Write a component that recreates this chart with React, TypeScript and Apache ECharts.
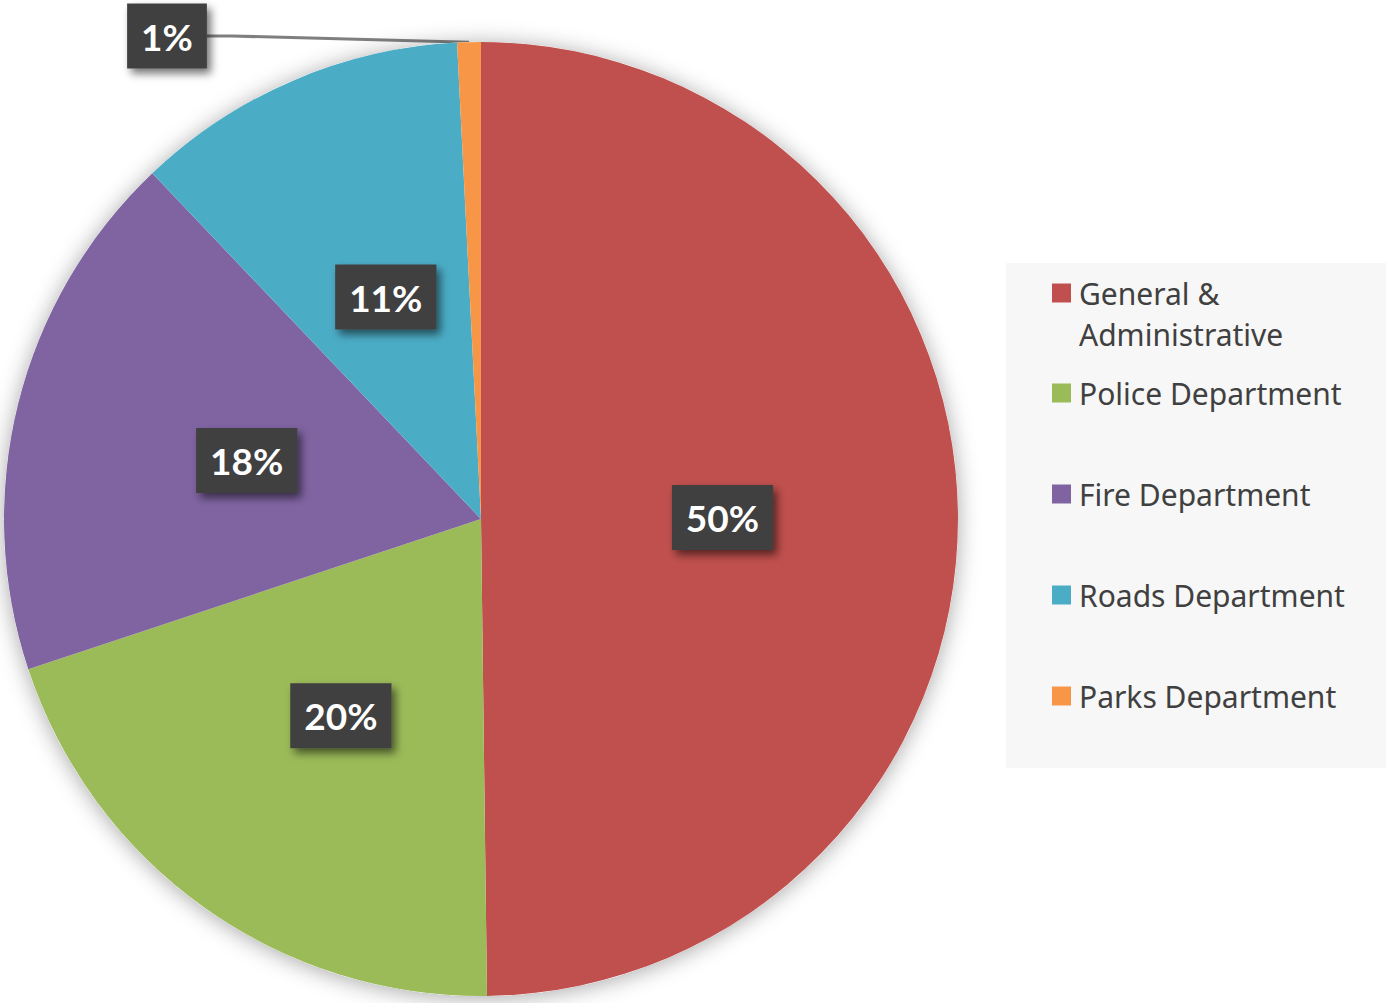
import React, { useEffect, useRef } from 'react';
import * as echarts from 'echarts';

const categories = [
  'General & Administrative',
  'Police Department',
  'Fire Department',
  'Roads Department',
  'Parks Department',
];
const values = [49.8, 20.1, 18.0, 11.3, 0.8];
const colors = ['#C0504D', '#9BBB59', '#8064A2', '#4BACC6', '#F79646'];
const legendText: Record<string, string> = {
  'General & Administrative': ' \nGeneral &\nAdministrative',
};

export default function App() {
  const ref = useRef<HTMLDivElement>(null);
  useEffect(() => {
    const chart = echarts.init(ref.current!, null, { renderer: 'svg' });
    const FONT = 'Lato, "Noto Sans", sans-serif';
    const LEGEND_FONT = '"Noto Sans", "Open Sans", sans-serif';
    const lineStyle = { color: '#7f7f7f', width: 3 };
    const data = categories.map((name, i) => {
      const item: any = { name, value: values[i], itemStyle: { color: colors[i] } };
      if (i === 4) {
        item.label = { position: 'outside' };
        item.labelLine = { show: true, length: 10, length2: 25, lineStyle };
      }
      return item;
    });
    const legendBase = {
      orient: 'vertical',
      left: 1052,
      padding: 0,
      itemWidth: 19,
      itemHeight: 19,
      icon: 'rect',
      selectedMode: false,
      formatter: (n: string) => legendText[n] || n,
    };
    const legendTextStyle = {
      color: '#404040',
      fontFamily: LEGEND_FONT,
      fontSize: 30,
      lineHeight: 41,
      padding: [0, 0, 0, 3],
    };
    chart.setOption({
      animation: false,
      backgroundColor: '#ffffff',
      graphic: [
        {
          type: 'rect',
          z: -10,
          shape: { x: 1006, y: 263, width: 380, height: 505 },
          style: { fill: '#f7f7f7' },
          silent: true,
        },
      ],
      legend: [
        {
          ...legendBase,
          top: 231.5,
          data: [categories[0]],
          textStyle: legendTextStyle,
        },
        {
          ...legendBase,
          top: 372.5,
          itemGap: 60,
          data: categories.slice(1),
          textStyle: legendTextStyle,
        },
      ],
      series: [
        {
          type: 'pie',
          name: 'shadow',
          silent: true,
          center: [481, 519],
          radius: 477,
          label: { show: false },
          labelLine: { show: false },
          data: [{ name: 'bg', value: 1 }],
          itemStyle: {
            color: '#ffffff',
            shadowBlur: 22,
            shadowColor: 'rgba(0,0,0,0.35)',
            shadowOffsetY: 2,
          },
        },
        {
          type: 'pie',
          name: 'Budget',
          center: [481, 519],
          radius: 477,
          startAngle: 90,
          clockwise: true,
          avoidLabelOverlap: false,
          itemStyle: { borderWidth: 0 },
          label: {
            show: true,
            position: 'inside',
            formatter: (p: any) => Math.round(p.percent) + '%',
            color: '#ffffff',
            fontFamily: FONT,
            fontWeight: 'bold',
            fontSize: 37,
            lineHeight: 45,
            backgroundColor: '#404040',
            padding: [10, 14],
            shadowColor: 'rgba(0,0,0,0.55)',
            shadowBlur: 8,
            shadowOffsetX: 4,
            shadowOffsetY: 5,
          },
          labelLine: { show: false, lineStyle },
          labelLayout: (params: any) =>
            params.dataIndex === 4
              ? { x: 167, y: 36, align: 'center', verticalAlign: 'middle' }
              : {},
          emphasis: { disabled: true },
          data,
        },
      ],
    });
    return () => chart.dispose();
  }, []);
  return (
    <div
      ref={ref}
      style={{ position: 'fixed', left: 0, top: 0, width: 1388, height: 1003 }}
    />
  );
}
